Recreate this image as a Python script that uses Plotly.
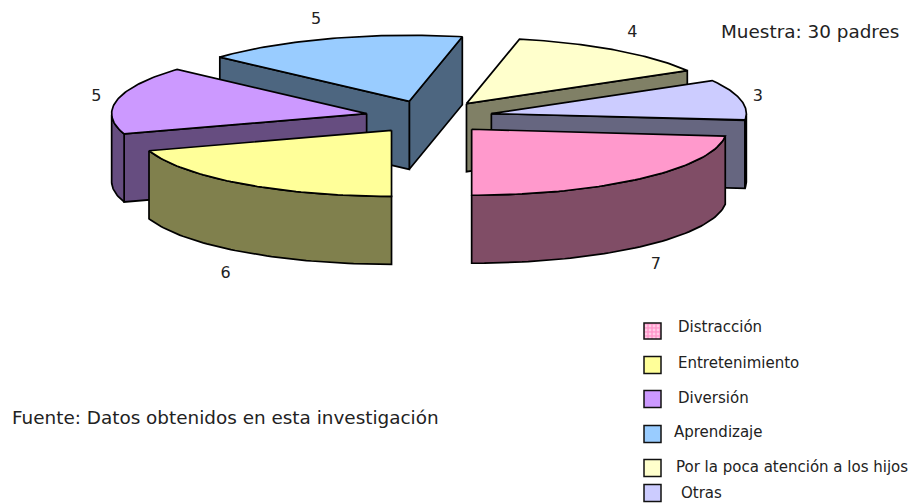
import numpy as np
import plotly.graph_objects as go

categories = ["Distracción", "Otras", "Por la poca atención a los hijos", "Aprendizaje", "Diversión", "Entretenimiento"]
values = [7, 3, 4, 5, 5, 6]
top_colors = ["#FF99CC", "#CCCCFF", "#FFFFCC", "#99CCFF", "#CC99FF", "#FFFF99"]
side_colors = ["#804D66", "#666680", "#808066", "#4D6680", "#664D80", "#80804D"]

legend_order = ["Distracción", "Entretenimiento", "Diversión", "Aprendizaje", "Por la poca atención a los hijos", "Otras"]
legend_swatch_y = [331, 365, 399, 434, 468, 493]
legend_text_x = [676, 676, 676, 672, 674, 679]
legend_text_y = [327, 363, 398, 432, 467, 493]
label_nudge_x = [-7, -13, -2, -5, 9, 2]
label_nudge_y = [7, 7, -3, -3, 7, 10]

PAGE_MARGIN = 8
W, H = 922, 504
CX, CY, RX, RY, DEPTH, PULL = 429, 117, 255, 66, 68, 0.25
LABEL_R = 1.12
START = -90.0

fig = go.Figure()
total = sum(values)
spans = []
a = START
for v in values:
    spans.append((a, a + 360.0 * v / total))
    a = spans[-1][1]

def poly(xs, ys, color, width=1.7):
    fig.add_trace(go.Scatter(x=list(xs) + [xs[0]], y=list(ys) + [ys[0]], mode="lines", fill="toself",
                             fillcolor=color, line=dict(color="#000000", width=width),
                             hoverinfo="skip", showlegend=False))

order = sorted(range(len(values)), key=lambda i: -np.sin(np.radians((spans[i][0] + spans[i][1]) / 2)))
for i in order:
    a0, a1 = spans[i]
    mid = np.radians((a0 + a1) / 2)
    ax = CX + PULL * RX * np.cos(mid)
    ay = CY - PULL * RY * np.sin(mid)
    th = np.radians(np.linspace(a0, a1, 60))
    ex = ax + RX * np.cos(th)
    ey = ay - RY * np.sin(th)
    for ang, normal in ((a0, a0 - 90), (a1, a1 + 90)):
        if np.sin(np.radians(normal)) < -1e-6:
            px = ax + RX * np.cos(np.radians(ang))
            py = ay - RY * np.sin(np.radians(ang))
            poly([ax, px, px, ax], [ay, py, py + DEPTH, ay + DEPTH], side_colors[i])
    front = np.sin(th) < 1e-9
    if front.sum() > 1:
        fx, fy = ex[front], ey[front]
        poly(list(fx) + list(fx[::-1]), list(fy) + list(fy[::-1] + DEPTH), side_colors[i])
    poly([ax] + list(ex), [ay] + list(ey), top_colors[i])

lx, ly, lt = [], [], []
for i, v in enumerate(values):
    a0, a1 = spans[i]
    mid = np.radians((a0 + a1) / 2)
    ax = CX + PULL * RX * np.cos(mid)
    ay = CY - PULL * RY * np.sin(mid)
    lx.append(ax + RX * LABEL_R * np.cos(mid) + label_nudge_x[i])
    ly.append(ay - RY * LABEL_R * np.sin(mid) + (DEPTH + 6 if np.sin(mid) < 0 else -8) + label_nudge_y[i])
    lt.append(str(v))
fig.add_trace(go.Scatter(x=lx, y=ly, mode="text", text=lt, textposition="middle center",
                         textfont=dict(family="DejaVu Sans", size=16, color="#222222"),
                         hoverinfo="skip", showlegend=False))

idx = [categories.index(c) for c in legend_order]
fig.add_trace(go.Bar(x=[652.5], y=[16], base=[legend_swatch_y[0] - 8], width=[17],
                     marker=dict(color="#FF99CC", line=dict(color="#111111", width=1.5),
                                 pattern=dict(shape=".", bgcolor="#FF99CC", fgcolor="#FFFFFF", size=4, solidity=0.4)),
                     hoverinfo="skip", showlegend=False))
fig.add_trace(go.Scatter(x=[652.5] * 5, y=legend_swatch_y[1:], mode="markers",
                         marker=dict(symbol="square", size=17, color=[top_colors[j] for j in idx[1:]],
                                     line=dict(color="#111111", width=1.5)),
                         hoverinfo="skip", showlegend=False))
annotations = [dict(x=x, y=y, text=t, xref="x", yref="y", showarrow=False, xanchor="left", yanchor="middle",
                    font=dict(family="DejaVu Sans", size=15, color="#222222"))
               for x, y, t in zip(legend_text_x, legend_text_y, legend_order)]
annotations += [
    dict(x=719, y=31, text="Muestra: 30 padres", xref="x", yref="y", showarrow=False, xanchor="left",
         yanchor="middle", font=dict(family="DejaVu Sans", size=18.4, color="#222222")),
    dict(x=10, y=417, text="Fuente: Datos obtenidos en esta investigación", xref="x", yref="y", showarrow=False,
         xanchor="left", yanchor="middle", font=dict(family="DejaVu Sans", size=18.4, color="#222222")),
]

fig.update_layout(
    width=W, height=H, margin=dict(l=0, r=0, t=0, b=0),
    paper_bgcolor="white", plot_bgcolor="white",
    xaxis=dict(range=[PAGE_MARGIN, W + PAGE_MARGIN], visible=False, fixedrange=True),
    yaxis=dict(range=[H + PAGE_MARGIN, PAGE_MARGIN], visible=False, fixedrange=True),
    annotations=annotations, showlegend=False,
)
fig.write_html("out.html", config=dict(displayModeBar=False))
